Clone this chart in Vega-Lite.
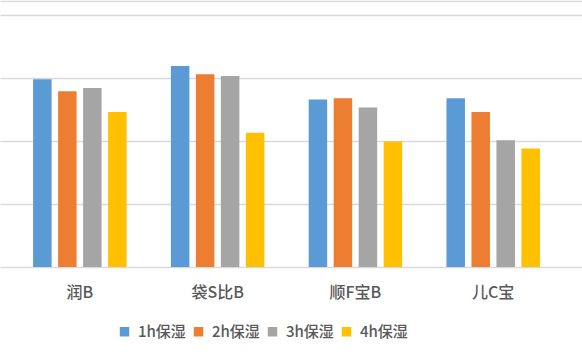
{
  "$schema": "https://vega.github.io/schema/vega-lite/v6.json",
  "width": 582,
  "height": 266,
  "autosize": "none",
  "padding": {"left": 0, "right": 0, "top": 1, "bottom": 93},
  "background": "white",
  "data": {
    "values": [
      {"brand": "润B", "series": "1h保湿", "value": 2.98},
      {"brand": "润B", "series": "2h保湿", "value": 2.79},
      {"brand": "润B", "series": "3h保湿", "value": 2.84},
      {"brand": "润B", "series": "4h保湿", "value": 2.46},
      {"brand": "袋S比B", "series": "1h保湿", "value": 3.19},
      {"brand": "袋S比B", "series": "2h保湿", "value": 3.06},
      {"brand": "袋S比B", "series": "3h保湿", "value": 3.03},
      {"brand": "袋S比B", "series": "4h保湿", "value": 2.13},
      {"brand": "顺F宝B", "series": "1h保湿", "value": 2.66},
      {"brand": "顺F宝B", "series": "2h保湿", "value": 2.68},
      {"brand": "顺F宝B", "series": "3h保湿", "value": 2.53},
      {"brand": "顺F宝B", "series": "4h保湿", "value": 1.99},
      {"brand": "儿C宝", "series": "1h保湿", "value": 2.68},
      {"brand": "儿C宝", "series": "2h保湿", "value": 2.46},
      {"brand": "儿C宝", "series": "3h保湿", "value": 2.01},
      {"brand": "儿C宝", "series": "4h保湿", "value": 1.88}
    ]
  },
  "mark": {"type": "bar"},
  "encoding": {
    "x": {
      "field": "brand",
      "type": "nominal",
      "sort": ["润B", "袋S比B", "顺F宝B", "儿C宝"],
      "scale": {"paddingInner": 0, "paddingOuter": 0.112, "align": 0.355},
      "axis": {
        "title": null,
        "labelAngle": 0,
        "domain": false,
        "ticks": false,
        "labelPadding": 17,
        "labelFontSize": 16,
        "labelFontWeight": 500,
        "labelColor": "#595959",
        "labelFont": "Noto Sans CJK SC"
      }
    },
    "xOffset": {
      "field": "series",
      "type": "nominal",
      "sort": ["1h保湿", "2h保湿", "3h保湿", "4h保湿"],
      "scale": {"paddingInner": 0.26, "paddingOuter": 0.886}
    },
    "y": {
      "field": "value",
      "type": "quantitative",
      "scale": {"domain": [0, 4.222], "nice": false, "zero": true},
      "axis": {
        "title": null,
        "labels": false,
        "ticks": false,
        "domain": false,
        "values": [0, 1, 2, 3, 4, 4.222],
        "gridColor": "#d9d9d9",
        "gridWidth": 1.3
      }
    },
    "color": {
      "field": "series",
      "type": "nominal",
      "sort": ["1h保湿", "2h保湿", "3h保湿", "4h保湿"],
      "scale": {
        "domain": ["1h保湿", "2h保湿", "3h保湿", "4h保湿"],
        "range": ["#5B9BD5", "#ED7D31", "#A5A5A5", "#FFC000"]
      },
      "legend": {
        "title": null,
        "orient": "none",
        "legendX": 117,
        "legendY": 323,
        "direction": "horizontal",
        "symbolType": "square",
        "symbolSize": 90,
        "symbolStrokeWidth": 0,
        "labelFontSize": 15,
        "labelFontWeight": 500,
        "labelColor": "#595959",
        "labelFont": "Noto Sans CJK SC",
        "labelOffset": 6,
        "columnPadding": 5
      }
    }
  },
  "config": {
    "view": {"stroke": null}
  }
}
